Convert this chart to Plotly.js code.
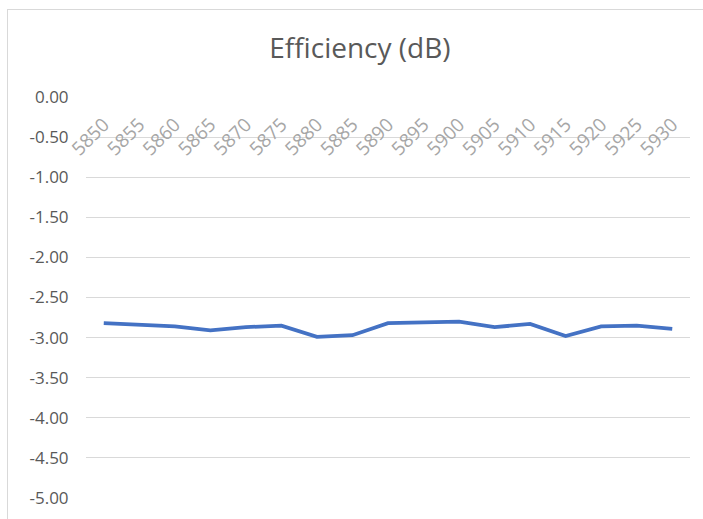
<!DOCTYPE html>
<html>
<head>
<meta charset="utf-8">
<script src="https://cdn.plot.ly/plotly-3.0.1.min.js"></script>
<style>
  html, body { margin: 0; padding: 0; background: #ffffff; }
  #frame { position: absolute; left: 7px; top: 9px; width: 720px; height: 530px; border: 1px solid #d9d9d9; box-sizing: border-box; }
  #chart { position: absolute; left: 0; top: 0; width: 703px; height: 519px; }
</style>
</head>
<body>
<div id="frame"></div>
<div id="chart"></div>
<script>
const frequencies = ['5850','5855','5860','5865','5870','5875','5880','5885','5890','5895','5900','5905','5910','5915','5920','5925','5930'];
const efficiencyDb = [-2.82,-2.84,-2.86,-2.91,-2.87,-2.85,-2.99,-2.97,-2.82,-2.81,-2.80,-2.87,-2.83,-2.98,-2.86,-2.85,-2.89];
const yTickValues = [0,-0.5,-1,-1.5,-2,-2.5,-3,-3.5,-4,-4.5,-5];
const yTickLabels = ['0.00','-0.50','-1.00','-1.50','-2.00','-2.50','-3.00','-3.50','-4.00','-4.50','-5.00'];

const trace = {
  type: 'scatter',
  mode: 'lines',
  x: frequencies,
  y: efficiencyDb,
  line: { color: '#4472c4', width: 3.8 },
  hoverinfo: 'x+y'
};

const layout = {
  width: 703,
  height: 519,
  margin: { l: 86, r: 13, t: 97, b: 21 },
  paper_bgcolor: 'rgba(0,0,0,0)',
  plot_bgcolor: 'rgba(0,0,0,0)',
  showlegend: false,
  title: {
    text: 'Efficiency (dB)',
    font: { family: 'Open Sans, sans-serif', size: 28, color: '#595959' },
    x: 0.512, xanchor: 'center',
    y: 0.908, yanchor: 'middle'
  },
  xaxis: {
    type: 'category',
    anchor: 'free',
    position: 1,
    side: 'bottom',
    tickangle: -45,
    ticks: 'outside',
    ticklen: 8,
    tickcolor: 'rgba(0,0,0,0)',
    showgrid: false,
    showline: false,
    zeroline: false,
    tickfont: { family: 'Open Sans, sans-serif', size: 19, color: '#a6a6a6' },
    range: [-0.5, frequencies.length - 0.5]
  },
  yaxis: {
    range: [-5, 0],
    tickvals: yTickValues,
    ticktext: yTickLabels,
    showgrid: true,
    gridcolor: '#d9d9d9',
    gridwidth: 1,
    zeroline: false,
    showline: false,
    ticks: 'outside',
    ticklen: 13,
    tickcolor: 'rgba(0,0,0,0)',
    tickfont: { family: 'Open Sans, sans-serif', size: 17, color: '#595959' }
  }
};

Plotly.newPlot('chart', [trace], layout, { displayModeBar: false, staticPlot: true });
</script>
</body>
</html>
